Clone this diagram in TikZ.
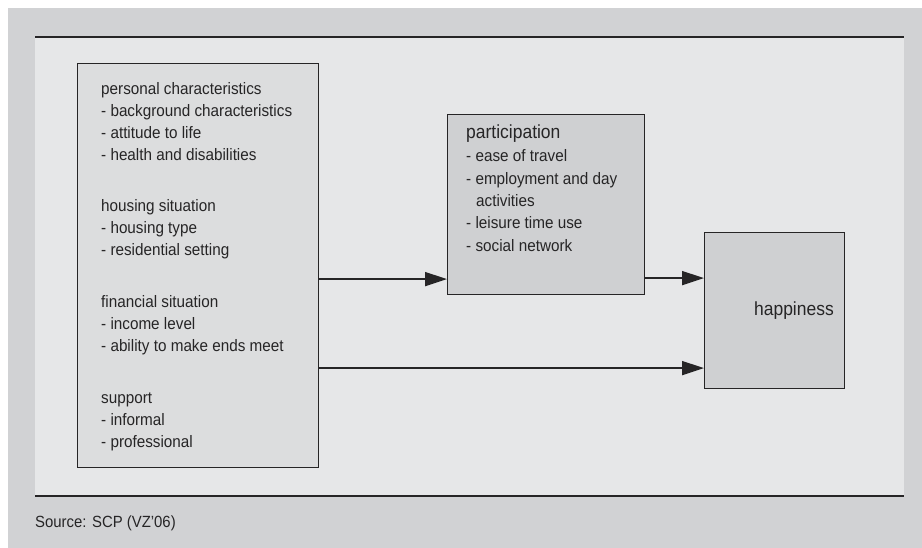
\documentclass[tikz,border=0pt]{standalone}
\usepackage{fontspec}
\setmainfont{Liberation Sans}[FakeStretch=0.92]
\usetikzlibrary{arrows.meta}
\definecolor{outergray}{HTML}{D1D2D4}
\definecolor{panelgray}{HTML}{E6E7E8}
\definecolor{boxlight}{HTML}{DCDDDE}
\definecolor{boxdark}{HTML}{CFD0D2}
\definecolor{inkc}{HTML}{262526}
\begin{document}
\begin{tikzpicture}[x=1pt,y=-1pt,
  rulel/.style={draw=inkc,line width=1.8pt},
  boxbase/.style={draw=inkc,line width=1.1pt,rectangle,inner sep=0pt,anchor=north west},
  boxL/.style={boxbase,fill=boxlight},
  boxD/.style={boxbase,fill=boxdark},
  txt/.style={inner sep=0pt,anchor=base west,text=inkc,font=\fontsize{16.6}{22}\selectfont},
  bigtxt/.style={inner sep=0pt,text=inkc,font=\fontsize{19}{22}\selectfont},
  arr/.style={draw=inkc,line width=1.7pt,-{Triangle[length=22pt,width=14pt]}}]
\useasboundingbox (0,0) rectangle (922,548);
\fill[white] (0,0) rectangle (922,548);
\fill[outergray] (8,8) rectangle (922,548);
\fill[panelgray] (35,37) rectangle (904,496);
\draw[rulel] (35,37) -- (904,37);
\draw[rulel] (35,496) -- (904,496);
% boxes
\node[boxL,minimum width=241pt,minimum height=404pt] (L) at (77,63) {};
\node[boxD,minimum width=197pt,minimum height=180pt] (P) at (447,114) {};
\node[boxD,minimum width=140pt,minimum height=156pt] (H) at (704,232) {};
% left box text
\foreach \y/\t [count=\i] in {95/personal characteristics,117/- background characteristics,139/- attitude to life,161/- health and disabilities,212/housing situation,234/- housing type,256/- residential setting,308/financial situation,330/- income level,352/- ability to make ends meet,403/support,425/- informal,447/- professional}
  \node[txt] (l\i) at (101,\y) {\t};
% participation text
\node[bigtxt,anchor=base west] (ptitle) at (466,139) {participation};
\foreach \y/\t [count=\i] in {162/- ease of travel,184.5/- employment and day,229/- leisure time use,251.5/- social network}
  \node[txt] (p\i) at (466,\y) {\t};
\node[txt] (pact) at (476,207) {activities};
% happiness
\node[bigtxt,anchor=base east] (htxt) at (834,316) {happiness};
% source
\node[inner sep=0pt,anchor=base west,text=inkc,font=\fontsize{16.2}{18}\selectfont] (src) at (35,527) {Source: SCP (VZ’06)};
% connectors
\coordinate (a1) at ([yshift=16pt]P.south west);
\coordinate (a2) at ([yshift=17pt]P.south east);
\coordinate (a3) at ([yshift=21pt]H.south west);
\draw[arr] (L.east |- a1) -- (a1);
\draw[arr] (a2) -- (H.west |- a2);
\draw[arr] (L.east |- a3) -- (a3);
\end{tikzpicture}
\end{document}
